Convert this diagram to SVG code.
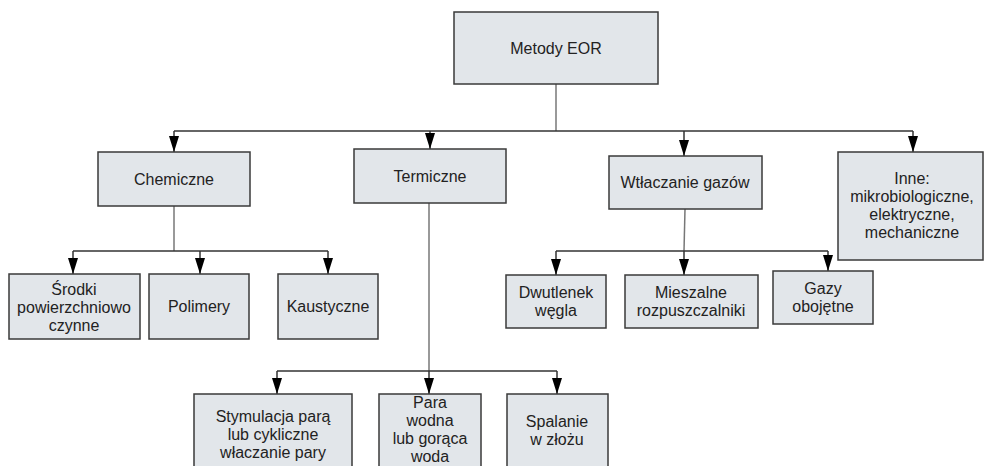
<svg xmlns="http://www.w3.org/2000/svg" width="984" height="466" viewBox="0 0 984 466">
<style>
.box{fill:#e2e6ea;stroke:#3a3a3a;stroke-width:1.5}
.t{font-family:"Liberation Sans",Arial,sans-serif;font-size:16px;fill:#222;text-anchor:middle}
.h{fill:none;stroke:#333;stroke-width:1.5}
.s{fill:none;stroke:#777;stroke-width:1.5}
.a{fill:none;stroke:#333;stroke-width:1.5;marker-end:url(#arr)}
</style>
<defs>
<marker id="arr" viewBox="0 0 16 10" refX="16" refY="5" markerWidth="16" markerHeight="10" markerUnits="userSpaceOnUse" orient="auto">
<path d="M0,0 L16,5 L0,10 z" fill="#000"/>
</marker>
</defs>
<rect width="984" height="466" fill="#fff"/>
<g id="connectors">
<path class="s" d="M556,84 V131"/>
<path class="h" d="M174,131 H913"/>
<path class="a" d="M174,131 V152"/>
<path class="a" d="M430,131 V149"/>
<path class="a" d="M684,131 V156"/>
<path class="a" d="M913,131 V152"/>
<path class="s" d="M174,206 V251"/>
<path class="h" d="M73,251 H328"/>
<path class="a" d="M73,251 V274"/>
<path class="a" d="M200,251 V274"/>
<path class="a" d="M328,251 V274"/>
<path class="s" d="M429,203 V371"/>
<path class="h" d="M277,371 H557"/>
<path class="a" d="M277,371 V394"/>
<path class="a" d="M429,371 V394"/>
<path class="a" d="M557,371 V394"/>
<path class="s" d="M685,209 L684,251"/>
<path class="h" d="M556,251 H828"/>
<path class="a" d="M556,251 V275"/>
<path class="a" d="M684,251 V275"/>
<path class="a" d="M828,251 V271"/>
</g>
<g id="metody">
<rect class="box" x="454" y="12" width="204" height="72"/>
<text class="t" x="556" y="53.5">Metody EOR</text>
</g>
<g id="chemiczne">
<rect class="box" x="98" y="152" width="152" height="54"/>
<text class="t" x="174" y="184.5">Chemiczne</text>
</g>
<g id="termiczne">
<rect class="box" x="354" y="149" width="152" height="54"/>
<text class="t" x="430" y="181.5">Termiczne</text>
</g>
<g id="wtlaczanie">
<rect class="box" x="609" y="156" width="153" height="53"/>
<text class="t" x="685" y="188">Wtłaczanie gazów</text>
</g>
<g id="inne">
<rect class="box" x="838" y="152" width="145" height="108"/>
<text class="t" x="912" y="184">Inne:</text>
<text class="t" x="912" y="202">mikrobiologiczne,</text>
<text class="t" x="912" y="220">elektryczne,</text>
<text class="t" x="912" y="238">mechaniczne</text>
</g>
<g id="srodki">
<rect class="box" x="9" y="274" width="131" height="65"/>
<text class="t" x="74" y="295">Środki</text>
<text class="t" x="74" y="313">powierzchniowo</text>
<text class="t" x="74" y="331">czynne</text>
</g>
<g id="polimery">
<rect class="box" x="149" y="274" width="100" height="65"/>
<text class="t" x="199" y="312">Polimery</text>
</g>
<g id="kaustyczne">
<rect class="box" x="278" y="274" width="100" height="65"/>
<text class="t" x="328" y="312">Kaustyczne</text>
</g>
<g id="dwutlenek">
<rect class="box" x="506" y="275" width="100" height="53"/>
<text class="t" x="556" y="298">Dwutlenek</text>
<text class="t" x="556" y="316">węgla</text>
</g>
<g id="mieszalne">
<rect class="box" x="625" y="275" width="133" height="53"/>
<text class="t" x="691" y="298">Mieszalne</text>
<text class="t" x="691" y="316">rozpuszczalniki</text>
</g>
<g id="gazy">
<rect class="box" x="773" y="271" width="100" height="53"/>
<text class="t" x="823" y="294">Gazy</text>
<text class="t" x="823" y="312">obojętne</text>
</g>
<g id="stymulacja">
<rect class="box" x="194" y="394" width="158" height="80"/>
<text class="t" x="273" y="422">Stymulacja parą</text>
<text class="t" x="273" y="440">lub cykliczne</text>
<text class="t" x="273" y="458">właczanie pary</text>
</g>
<g id="para">
<rect class="box" x="379" y="394" width="102" height="80"/>
<text class="t" x="430" y="408">Para</text>
<text class="t" x="430" y="426">wodna</text>
<text class="t" x="430" y="444">lub gorąca</text>
<text class="t" x="430" y="462">woda</text>
</g>
<g id="spalanie">
<rect class="box" x="507" y="394" width="101" height="80"/>
<text class="t" x="557" y="427">Spalanie</text>
<text class="t" x="557" y="445">w złożu</text>
</g>
</svg>
